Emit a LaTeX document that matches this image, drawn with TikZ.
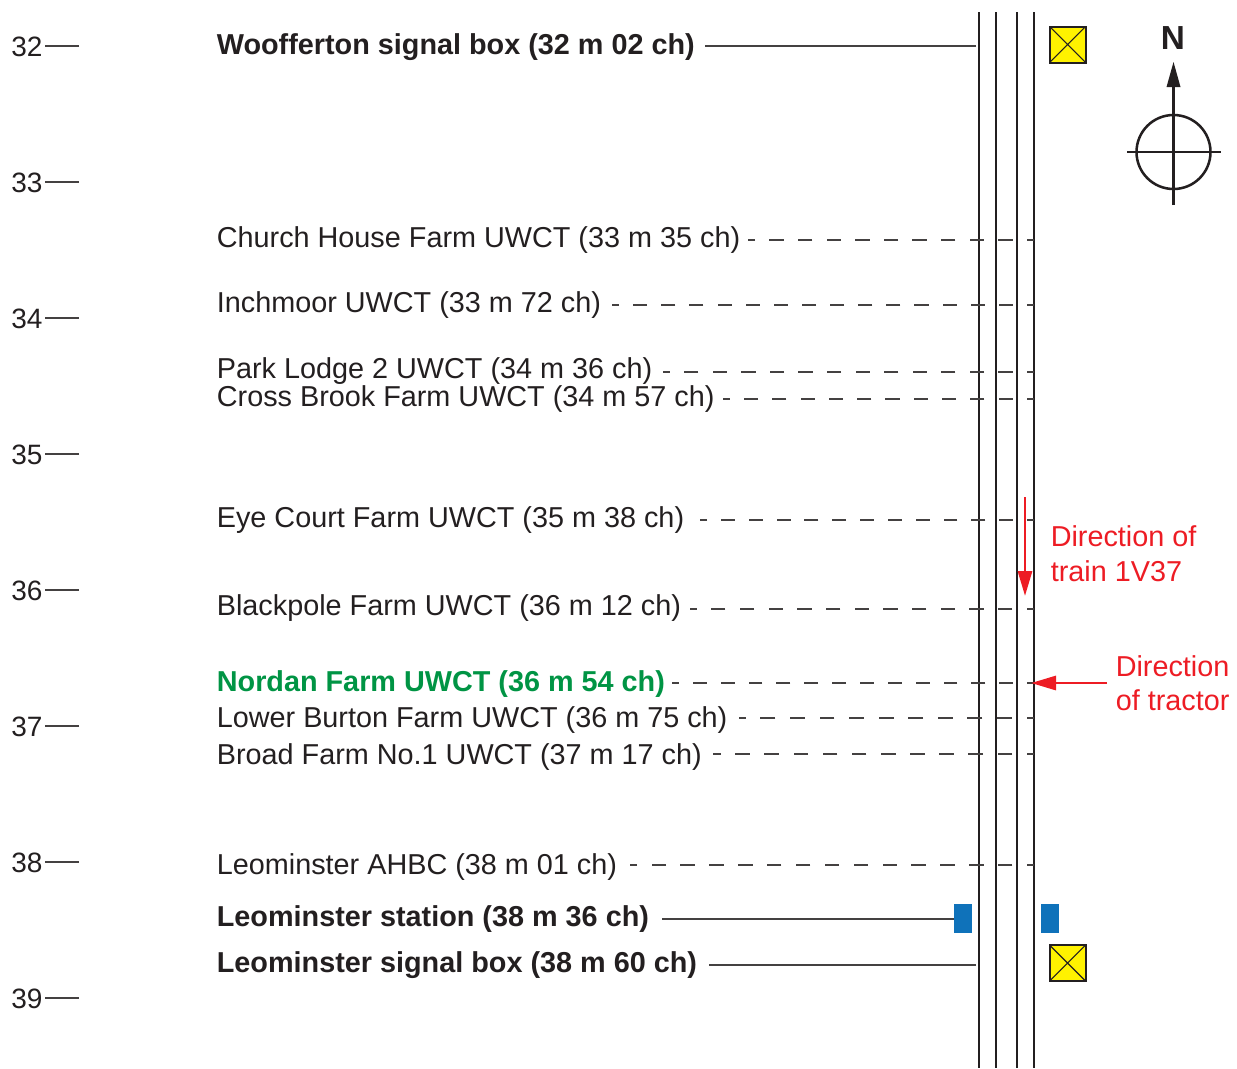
\documentclass[tikz,border=0pt]{standalone}
\usepackage{fontspec}
\setmainfont{Liberation Sans}
\usetikzlibrary{arrows.meta}
\definecolor{ink}{HTML}{231F20}
\definecolor{rred}{HTML}{ED1C24}
\definecolor{rgreen}{HTML}{009444}
\definecolor{rblue}{HTML}{0F72BA}
\definecolor{ryellow}{HTML}{FFF200}
\tikzset{
  x=0.75pt,y=-0.75pt,
  rail/.style={draw=ink,line width=2.15pt},
  thinrail/.style={draw=ink,line width=2.15pt},
  lab/.style={inner sep=0pt,anchor=base west,text=ink,font=\fontsize{21.6}{25}\selectfont},
  numlab/.style={lab,font=\fontsize{21}{25}\selectfont},
  blab/.style={lab,font=\fontsize{21.6}{25}\selectfont\bfseries},
  glab/.style={blab,text=rgreen},
  rlab/.style={inner sep=0pt,anchor=base west,text=rred,font=\fontsize{21.6}{25}\selectfont},
  solidln/.style={draw=ink!85,line width=0.8pt},
  dashln/.style={draw=ink!85,line width=0.8pt},
  sigbox/.style={draw=ink,line width=1.5pt,fill=ryellow,minimum size=27pt,inner sep=0pt,outer sep=0pt},
  platform/.style={fill=rblue,draw=none,minimum width=13.5pt,minimum height=21.75pt,inner sep=0pt},
  redln/.style={draw=rred,line width=2.2pt,-{Triangle[length=18.75pt,width=10.5pt]}},
  compassln/.style={draw=ink,line width=1.9pt},
}
\newcommand{\milepost}[3]{%
  \node[numlab] (m#1) at (11,#3) {#1};
  \coordinate (mt#1) at (79,#2);
  \draw[solidln] (mt#1) -- (mt#1 -| 45,0);
}
% name, baseline, line y, text, style, gap after text (px), dash period (px)
\newcommand{\crossing}[7]{%
  \node[#5] (#1) at (216.6,#2) {#4};
  \coordinate (#1r) at (1034,#3);
  \pgfmathsetmacro{\dl}{0.375*#7}%
  \pgfmathsetmacro{\dh}{0.1875*#7}%
  \pgfmathsetmacro{\gp}{0.75*#6}%
  \draw[dashln,dash pattern=on \dl pt off \dl pt,dash phase=\dh pt] (#1r) -- ([xshift=\gp pt]#1r -| #1.east);
}
\newcommand{\solidrow}[6]{% name, baseline, line y, text, end x, gap(px)
  \node[blab] (#1) at (216.6,#2) {#4};
  \coordinate (#1r) at (#5,#3);
  \draw[solidln] (#1r) -- ([xshift=#6pt]#1r -| #1.east);
}
\begin{document}
\begin{tikzpicture}
\useasboundingbox (0,0) rectangle (1237,1068);
% rails
\coordinate (r1t) at (979,12); \coordinate (r1b) at (979,1068);
\coordinate (r2t) at (996,12); \coordinate (r2b) at (996,1068);
\coordinate (r3t) at (1017,12); \coordinate (r3b) at (1017,1068);
\coordinate (r4t) at (1034,12); \coordinate (r4b) at (1034,1068);
\draw[rail] (r1t) -- (r1b);
\draw[rail] (r2t) -- (r2b);
\draw[thinrail] (r3t) -- (r3b);
\draw[thinrail] (r4t) -- (r4b);
% mileposts
\milepost{32}{46}{56}
\milepost{33}{182}{192}
\milepost{34}{318}{328}
\milepost{35}{454}{464}
\milepost{36}{590}{600}
\milepost{37}{726}{736}
\milepost{38}{862}{872}
\milepost{39}{998}{1008}
% rows
\solidrow{woof}{54}{46}{Woofferton signal box (32 m 02 ch)}{976}{7.2}
\crossing{church}{247}{240}{Church House Farm UWCT (33 m 35 ch)}{lab}{8}{28.6}
\crossing{inch}{312}{305}{Inchmoor UWCT (33 m 72 ch)}{lab}{11}{28.13}
\crossing{park}{378}{372}{Park Lodge 2 UWCT (34 m 36 ch)}{lab}{10.7}{28.56}
\crossing{cross}{406}{399}{Cross Brook Farm UWCT (34 m 57 ch)}{lab}{7.7}{28.3}
\crossing{eye}{527}{520}{Eye Court Farm UWCT (35 m 38 ch)}{lab}{16}{27.83}
\crossing{black}{615}{609}{Blackpole Farm UWCT (36 m 12 ch)}{lab}{8.3}{28.7}
\crossing{nordan}{691}{683}{Nordan Farm UWCT (36 m 54 ch)}{glab}{7}{27.85}
\crossing{lower}{727}{718}{Lower Burton Farm UWCT (36 m 75 ch)}{lab}{11.3}{29.57}
\crossing{broad}{764}{754}{Broad Farm No.1 UWCT (37 m 17 ch)}{lab}{11.3}{29.15}
\crossing{leo}{874}{865}{Leominster AHBC (38 m 01 ch)}{lab}{13}{28.86}
\solidrow{stat}{926}{919}{Leominster station (38 m 36 ch)}{954}{9.5}
\solidrow{lsb}{972}{965}{Leominster signal box (38 m 60 ch)}{976}{8.7}
% signal boxes
\node[sigbox] (sb1) at (1067.5,44.5) {};
\draw[draw=ink,line width=0.8pt] (sb1.north west) -- (sb1.south east) (sb1.north east) -- (sb1.south west);
\node[sigbox] (sb2) at (1067.5,963) {};
\draw[draw=ink,line width=0.8pt] (sb2.north west) -- (sb2.south east) (sb2.north east) -- (sb2.south west);
% platforms
\node[platform] (p1) at (963,918.5) {};
\node[platform] (p2) at (1050,918.5) {};
% compass
\node[inner sep=0pt,text=ink,font=\fontsize{25}{29}\selectfont\bfseries] (north) at (1173,38) {N};
\coordinate (cc) at (1173.5,152);
\coordinate (ctop) at (1173.5,62);
\coordinate (cbot) at (1173.5,205);
\draw[compassln] (cc) circle (27.75pt);
\draw[compassln] (1127,152) -- (1221,152);
\draw[compassln] (cbot) -- (1173.5,85);
\draw[draw=none,fill=ink] (ctop) -- (1180.5,87) -- (1166.5,87) -- cycle;
% direction of train
\coordinate (ta) at (1025,497);
\coordinate (tb) at (1025,596);
\draw[redln] (ta) -- (tb);
\node[rlab] (d1) at (1050.5,546) {Direction of};
\node[rlab] (d2) at (1050.5,581) {train 1V37};
% direction of tractor
\node[rlab] (d3) at (1115.5,676) {Direction};
\node[rlab] (d4) at (1115.5,710) {of tractor};
\coordinate (tra) at (1107,683);
\coordinate (trb) at (1031,683);
\draw[redln] (tra) -- (trb);
\end{tikzpicture}
\end{document}
